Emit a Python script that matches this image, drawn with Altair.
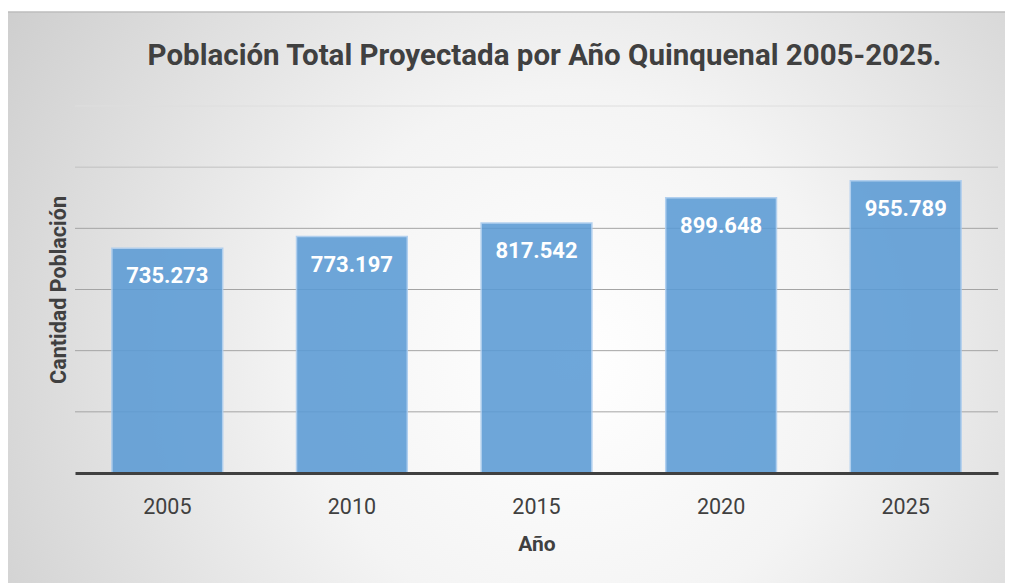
import altair as alt
import pandas as pd

title_text = "Población Total Proyectada por Año Quinquenal 2005-2025."
years = ["2005", "2010", "2015", "2020", "2025"]
population = [735273, 773197, 817542, 899648, 955789]
grid_values = [200000, 400000, 600000, 800000, 1000000, 1200000]

bars_df = pd.DataFrame({"year": years, "pop": population})
grid_df = pd.DataFrame({"v": grid_values})
bg_df = pd.DataFrame({"k": [0]})
title_df = pd.DataFrame({"t": [title_text]})

FONT = "Roboto"
W, H = 923, 367

bg = alt.Chart(bg_df).mark_rect(
    fill=alt.RadialGradient(
        gradient="radial",
        stops=[
            alt.GradientStop(offset=0, color="#ffffff"),
            alt.GradientStop(offset=0.35, color="#f4f4f4"),
            alt.GradientStop(offset=1, color="#c4c4c4"),
        ],
        x1=0.55, y1=0.55, r1=0, x2=0.55, y2=0.55, r2=0.75,
    ),
    stroke="#bdbdbd",
    strokeWidth=1.5,
).encode(
    x=alt.value(-68), x2=alt.value(960),
    y=alt.value(-94), y2=alt.value(500),
)

title = alt.Chart(title_df).mark_text(
    font=FONT,
    fontSize=29.5,
    fontWeight="bold",
    color="#404040",
    align="center",
    baseline="alphabetic",
).encode(
    x=alt.value(W / 2 + 8),
    y=alt.value(-41),
    text="t:N",
)

yscale = alt.Scale(domain=[0, 1200000], nice=False)

y_axis = alt.Axis(
    title="Cantidad Población",
    labels=False,
    ticks=False,
    domain=False,
    grid=False,
    titleFont=FONT,
    titleFontSize=21.5,
    titleFontWeight="bold",
    titleColor="#404040",
    titleAngle=270,
    titleAlign="center",
    titleBaseline="alphabetic",
    titleX=-10,
    titleY=H / 2,
    zindex=1,
)

grid = alt.Chart(grid_df).mark_rule(strokeWidth=1).encode(
    y=alt.Y("v:Q", scale=yscale, axis=y_axis, title="Cantidad Población"),
    color=alt.Color(
        "v:Q",
        scale=alt.Scale(domain=[800000, 1200000], range=["#a4a4a4", "#dedede"], clamp=True),
        legend=None,
    ),
)

base = alt.Chart(bars_df).encode(
    x=alt.X(
        "year:O",
        scale=alt.Scale(paddingInner=0.4, paddingOuter=0.2),
        axis=alt.Axis(
            title="Año",
            labelAngle=0,
            ticks=False,
            tickSize=0,
            grid=False,
            domainColor="#404040",
            domainWidth=3,
            labelFont=FONT,
            labelFontSize=21.5,
            labelColor="#404040",
            labelBaseline="alphabetic",
            labelPadding=40,
            titleFont=FONT,
            titleFontSize=21,
            titleFontWeight="bold",
            titleColor="#404040",
            titleBaseline="alphabetic",
            titleY=77,
            zindex=1,
        ),
    ),
    y=alt.Y("pop:Q", scale=yscale, axis=y_axis, title="Cantidad Población"),
)

bars = base.mark_bar(
    color="#5B9BD5",
    opacity=0.88,
    stroke="#a9cbee",
    strokeWidth=1.5,
)

labels = base.transform_calculate(
    label="replace(format(datum.pop, ','), ',', '.')"
).mark_text(
    font=FONT,
    fontSize=22,
    fontWeight="bold",
    color="white",
    baseline="alphabetic",
    dy=35,
).encode(text="label:N")

chart = alt.layer(bg, title, grid, bars, labels).properties(
    width=W,
    height=H,
    autosize=alt.AutoSizeParams(type="none"),
    padding={"left": 67, "top": 98, "right": 7, "bottom": 110},
).configure_view(stroke=None).configure(background="white")

chart.save("out.html", embed_options={"renderer": "svg", "actions": False})
